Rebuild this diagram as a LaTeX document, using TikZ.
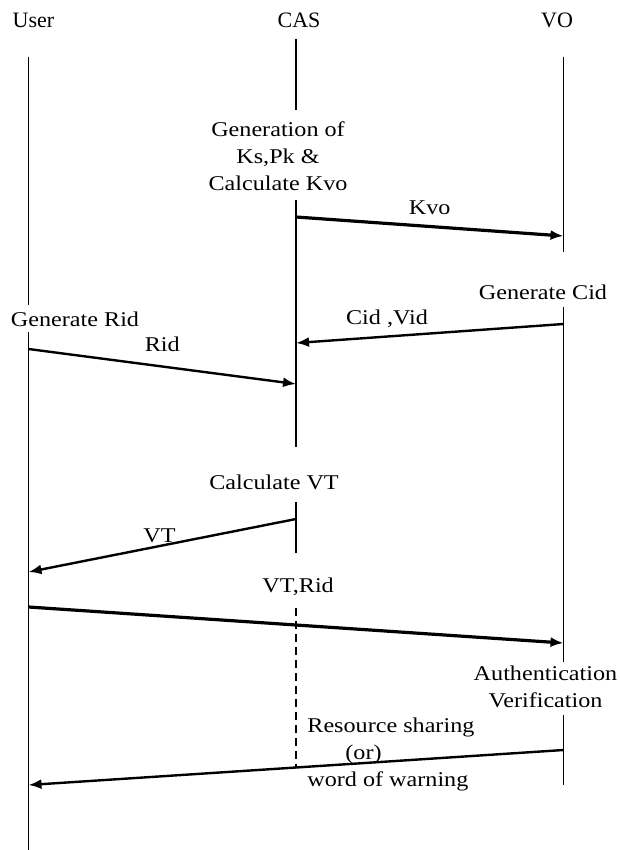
\documentclass[tikz,border=0pt]{standalone}
\usepackage{fontspec}
\setmainfont{Liberation Serif}[FakeStretch=1.15]
\newfontfamily\headfont{Liberation Serif}
\usepackage{tikz}
\usetikzlibrary{arrows.meta, positioning}
\tikzset{
    textnode/.style = {draw=none, fill=none, rectangle, minimum size=0cm, inner sep=0em,
      align=center, font=\fontsize{10.5}{13.5}\selectfont},
    headnode/.style = {textnode, font=\headfont\fontsize{11}{13.5}\selectfont},
    lifeline/.style = {black, line width=0.7pt},
    dashline/.style = {black, line width=0.8pt, dash pattern=on 4pt off 2.5pt},
    connect/.style = {black, line width=1.2pt, -{Latex[length=6.5pt, width=5pt]}},
    boldconnect/.style = {connect, line width=1.6pt}
}

\begin{document}
\begin{tikzpicture}[node distance=0pt]
\useasboundingbox (0,0) rectangle (310pt,-425pt);

\node [headnode, name=user] at (16.75pt,-10pt) {User};
\node [headnode, name=cas] at (149.5pt,-10pt) {CAS};
\node [headnode, name=vo] at (278.5pt,-10pt) {VO};

% tops of the three lines
\coordinate [below of=user, xshift=-2.5pt, yshift=-18.5pt] (user0);
\coordinate [below of=cas, xshift=-1.5pt, yshift=-9.5pt] (cas0);
\coordinate [below of=vo, xshift=3.25pt, yshift=-18.5pt] (vo0);

% user
\coordinate [below of=user0, yshift=-124pt] (user1);
\coordinate [below of=user0, yshift=-137.5pt] (user2);
\coordinate [below of=user0, yshift=-146pt] (ridS);
\coordinate [below of=user0, yshift=-257.5pt] (vtE);
\coordinate [below of=user0, yshift=-275pt] (vtrS);
\coordinate [below of=user0, yshift=-364pt] (finE);
\coordinate [below of=user0, yshift=-396.5pt] (user3);

% cas
\coordinate [below of=cas0, yshift=-35.5pt] (cas1);
\coordinate [below of=cas0, yshift=-80.5pt] (cas2);
\coordinate [below of=cas0, yshift=-89pt] (kvoS);
\coordinate [below of=cas0, yshift=-152pt] (cidE);
\coordinate [below of=cas0, yshift=-172.5pt] (ridE);
\coordinate [below of=cas0, yshift=-204pt] (cas3);
\coordinate [below of=cas0, yshift=-231.5pt] (cas4);
\coordinate [below of=cas0, yshift=-240pt] (vtS);
\coordinate [below of=cas0, yshift=-257pt] (cas5);
\coordinate [below of=cas0, yshift=-284.5pt] (cas6);
\coordinate [below of=cas0, yshift=-364.5pt] (cas7);

% vo
\coordinate [below of=vo0, yshift=-89.5pt] (kvoE);
\coordinate [below of=vo0, yshift=-97.5pt] (vo1);
\coordinate [below of=vo0, yshift=-125pt] (vo2);
\coordinate [below of=vo0, yshift=-133.5pt] (cidS);
\coordinate [below of=vo0, yshift=-293pt] (vtrE);
\coordinate [below of=vo0, yshift=-302.5pt] (vo3);
\coordinate [below of=vo0, yshift=-329pt] (vo4);
\coordinate [below of=vo0, yshift=-346.5pt] (finS);
\coordinate [below of=vo0, yshift=-364pt] (vo5);

\node [textnode, name=genKs, below of=cas0, xshift=-9pt, yshift=-58.5pt] {Generation of\\Ks,Pk \&\\Calculate Kvo};
\node [textnode, name=genCid, below of=vo0, xshift=-10.25pt, yshift=-117.5pt] {Generate Cid};
\node [textnode, name=genRid, below of=user0, xshift=23.25pt, yshift=-131pt] {Generate Rid};
\node [textnode, name=calcVT, below of=cas0, xshift=-11pt, yshift=-221.5pt] {Calculate VT};
\node [textnode, name=auth, below of=vo0, xshift=-9pt, yshift=-314.75pt] {Authentication\\Verification};
\node [textnode, name=result, below of=cas0, anchor=west, align=left, xshift=5.5pt, yshift=-357.5pt] {Resource sharing\\\hspace*{19pt}(or)\\word of warning};

\draw [lifeline] (user0) -- (user1);
\draw [lifeline] (user2) -- (user3);
\draw [lifeline] (cas0) -- (cas1);
\draw [lifeline] (cas2) -- (cas3);
\draw [lifeline] (cas4) -- (cas5);
\draw [dashline] (cas6) -- (cas7);
\draw [lifeline] (vo0) -- (vo1);
\draw [lifeline] (vo2) -- (vo3);
\draw [lifeline] (vo4) -- (vo5);

\draw [boldconnect] (kvoS) -- node[textnode, above=4.9pt, name=kvo] {Kvo} (kvoE);
\draw [connect] (cidS) -- node[textnode, pos=0.66, above=3.9pt, name=cidvid] {Cid ,Vid} (cidE);
\draw [connect] (ridS) -- node[textnode, above=6.85pt, name=rid] {Rid} (ridE);
\draw [connect] (vtS) -- node[textnode, pos=0.51, above=1.1pt, name=vt] {VT} (vtE);
\draw [boldconnect] (vtrS) -- node[textnode, pos=0.504, above=14pt, name=vtrid] {VT,Rid} (vtrE);
\draw [connect] (finS) -- (finE);
\end{tikzpicture}
\end{document}
